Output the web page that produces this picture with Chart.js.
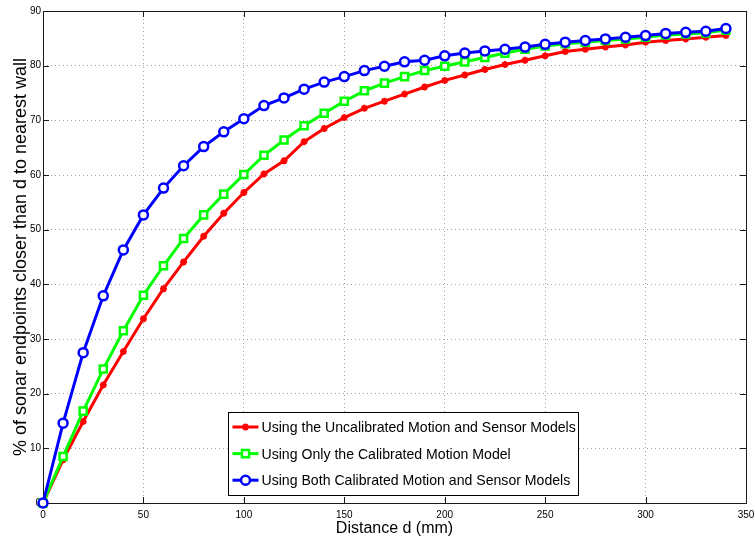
<!DOCTYPE html>
<html>
<head>
<meta charset="utf-8">
<script src="https://cdn.jsdelivr.net/npm/chart.js@4.4.0/dist/chart.umd.min.js"></script>
<style>
    html, body { margin: 0; padding: 0; background: #fff; }
    #wrap { width: 755px; height: 539px; }
</style>
</head>
<body>
<div id="wrap"><canvas id="sonarChart" width="755" height="539"></canvas></div>
<script>
// Distance from wall (mm)
const distances = [0, 10, 20, 30, 40, 50, 60, 70, 80, 90, 100, 110, 120, 130, 140, 150, 160, 170,
    180, 190, 200, 210, 220, 230, 240, 250, 260, 270, 280, 290, 300, 310, 320, 330, 340];

// % of sonar endpoints closer than d
const uncalibrated = [0, 7.9, 14.9, 21.6, 27.7, 33.7, 39.2, 44.1, 48.8, 53.0, 56.8, 60.2, 62.6, 66.1,
    68.5, 70.5, 72.2, 73.5, 74.8, 76.1, 77.3, 78.3, 79.3, 80.2, 81.0, 81.8, 82.6, 83.0, 83.4, 83.8,
    84.3, 84.6, 84.9, 85.2, 85.5];
const calibratedMotion = [0, 8.5, 16.8, 24.5, 31.5, 38.0, 43.4, 48.4, 52.7, 56.5, 60.1, 63.6, 66.4,
    69.0, 71.3, 73.5, 75.4, 76.8, 78.0, 79.1, 79.9, 80.7, 81.5, 82.3, 83.0, 83.6, 84.0, 84.3, 84.6,
    84.9, 85.2, 85.6, 85.8, 86.0, 86.5];
const calibratedBoth = [0, 14.6, 27.5, 37.9, 46.3, 52.7, 57.6, 61.7, 65.2, 67.9, 70.3, 72.7, 74.1,
    75.7, 77.0, 78.0, 79.1, 79.9, 80.7, 81.0, 81.8, 82.3, 82.7, 83.0, 83.4, 83.9, 84.3, 84.6, 84.9,
    85.2, 85.5, 85.9, 86.1, 86.3, 86.8];

const seriesLabels = [
    'Using the Uncalibrated Motion and Sensor Models',
    'Using Only the Calibrated Motion Model',
    'Using Both Calibrated Motion and Sensor Models'
];

const FONT = '"Liberation Sans", Arial, Helvetica, sans-serif';

function toPoints(values) {
    return distances.map((d, i) => ({ x: d, y: values[i] }));
}

// Marker styles shared by the plot and the legend
const markers = [
    { color: '#ff0000', style: 'star', radius: 3.5, borderWidth: 2, fill: '#ff0000' },
    { color: '#00ff00', style: 'rect', radius: 5, borderWidth: 2.5, fill: '#ffffff' },
    { color: '#0000ff', style: 'circle', radius: 4.5, borderWidth: 2.5, fill: '#ffffff' }
];

// Box, inner ticks (MATLAB style)
const axesFrame = {
    id: 'axesFrame',
    beforeDatasetsDraw(chart) {
        const { ctx, chartArea: a, scales } = chart;
        ctx.save();
        ctx.strokeStyle = '#1a1a1a';
        ctx.lineWidth = 1;
        ctx.beginPath();
        scales.x.ticks.forEach(t => {
            const px = Math.round(scales.x.getPixelForValue(t.value)) + 0.5;
            ctx.moveTo(px, a.bottom); ctx.lineTo(px, a.bottom - 6);
            ctx.moveTo(px, a.top); ctx.lineTo(px, a.top + 6);
        });
        scales.y.ticks.forEach(t => {
            const py = Math.round(scales.y.getPixelForValue(t.value)) + 0.5;
            ctx.moveTo(a.left, py); ctx.lineTo(a.left + 6, py);
            ctx.moveTo(a.right, py); ctx.lineTo(a.right - 6, py);
        });
        ctx.stroke();
        ctx.strokeRect(Math.round(a.left) + 0.5, Math.round(a.top) + 0.5,
            Math.round(a.right - a.left), Math.round(a.bottom - a.top));
        ctx.restore();
    }
};

function drawMarker(ctx, m, x, y) {
    ctx.save();
    ctx.strokeStyle = m.color;
    ctx.fillStyle = m.fill;
    ctx.lineWidth = m.borderWidth;
    ctx.beginPath();
    if (m.style === 'circle') {
        ctx.arc(x, y, m.radius, 0, Math.PI * 2);
        ctx.fill();
        ctx.stroke();
    } else if (m.style === 'rect') {
        const s = m.radius * Math.SQRT1_2;
        ctx.rect(x - s, y - s, 2 * s, 2 * s);
        ctx.fill();
        ctx.stroke();
    } else {
        const r = m.radius;
        ctx.moveTo(x - r, y); ctx.lineTo(x + r, y);
        ctx.moveTo(x, y - r); ctx.lineTo(x, y + r);
        const d = r * Math.SQRT1_2;
        ctx.moveTo(x - d, y - d); ctx.lineTo(x + d, y + d);
        ctx.moveTo(x - d, y + d); ctx.lineTo(x + d, y - d);
        ctx.stroke();
    }
    ctx.restore();
}

// Legend box inside the plot, lower middle
const boxLegend = {
    id: 'boxLegend',
    afterDraw(chart) {
        const { ctx, chartArea: a } = chart;
        const left = Math.round(a.left + 185) + 0.5;
        const top = Math.round(a.top + 401) + 0.5;
        const w = 350, h = 83;
        ctx.save();
        ctx.fillStyle = '#ffffff';
        ctx.fillRect(left, top, w, h);
        ctx.strokeStyle = '#000000';
        ctx.lineWidth = 1;
        ctx.strokeRect(left, top, w, h);
        seriesLabels.forEach((label, i) => {
            const m = markers[i];
            const cy = top + 14.5 + i * 26.6;
            ctx.strokeStyle = m.color;
            ctx.lineWidth = 3;
            ctx.beginPath();
            ctx.moveTo(left + 4, cy);
            ctx.lineTo(left + 30, cy);
            ctx.stroke();
            drawMarker(ctx, m, left + 17, cy);
            ctx.save();
            ctx.translate(left + 33, cy);
            ctx.scale(0.94, 1);
            ctx.fillStyle = '#000000';
            ctx.font = '15px ' + FONT;
            ctx.textBaseline = 'middle';
            ctx.fillText(label, 0, 1);
            ctx.restore();
        });
        ctx.restore();
    }
};

const seriesValues = [uncalibrated, calibratedMotion, calibratedBoth];

new Chart(document.getElementById('sonarChart').getContext('2d'), {
    type: 'line',
    data: {
        datasets: seriesValues.map((vals, i) => ({
            label: seriesLabels[i],
            data: toPoints(vals),
            borderColor: markers[i].color,
            backgroundColor: markers[i].fill,
            borderWidth: 3,
            pointStyle: markers[i].style,
            pointRadius: markers[i].radius,
            pointBorderWidth: markers[i].borderWidth,
            pointBorderColor: markers[i].color,
            pointBackgroundColor: markers[i].fill,
            tension: 0,
            clip: false,
            order: 3 - i
        }))
    },
    options: {
        responsive: false,
        animation: false,
        devicePixelRatio: 1,
        layout: { padding: { top: 11, right: 0, left: 0, bottom: 0 } },
        plugins: {
            legend: { display: false },
            tooltip: { enabled: false }
        },
        scales: {
            x: {
                type: 'linear',
                min: 0,
                max: 350,
                afterFit: s => {
                    s.height = 36;
                    s.paddingLeft = 0;
                    s.paddingRight = 9;
                },
                ticks: { stepSize: 50, padding: 6, color: '#000', font: { family: FONT, size: 10 } },
                grid: { color: '#a0a0a0', lineWidth: 1, drawTicks: false },
                border: { display: false, dash: [1, 3] },
                title: {
                    display: true,
                    text: 'Distance d (mm)',
                    color: '#000',
                    font: { family: FONT, size: 16 },
                    padding: { top: 0, bottom: 1 }
                }
            },
            y: {
                min: 0,
                max: 90,
                afterFit: s => { s.width = 43; },
                ticks: { stepSize: 10, padding: 2, color: '#000', font: { family: FONT, size: 10 } },
                grid: { color: '#a0a0a0', lineWidth: 1, drawTicks: false },
                border: { display: false, dash: [1, 3] },
                title: {
                    display: true,
                    text: '% of sonar endpoints closer than d to nearest wall',
                    color: '#000',
                    font: { family: FONT, size: 18 },
                    padding: { top: 10, bottom: 0 }
                }
            }
        }
    },
    plugins: [axesFrame, boxLegend]
});
</script>
</body>
</html>
